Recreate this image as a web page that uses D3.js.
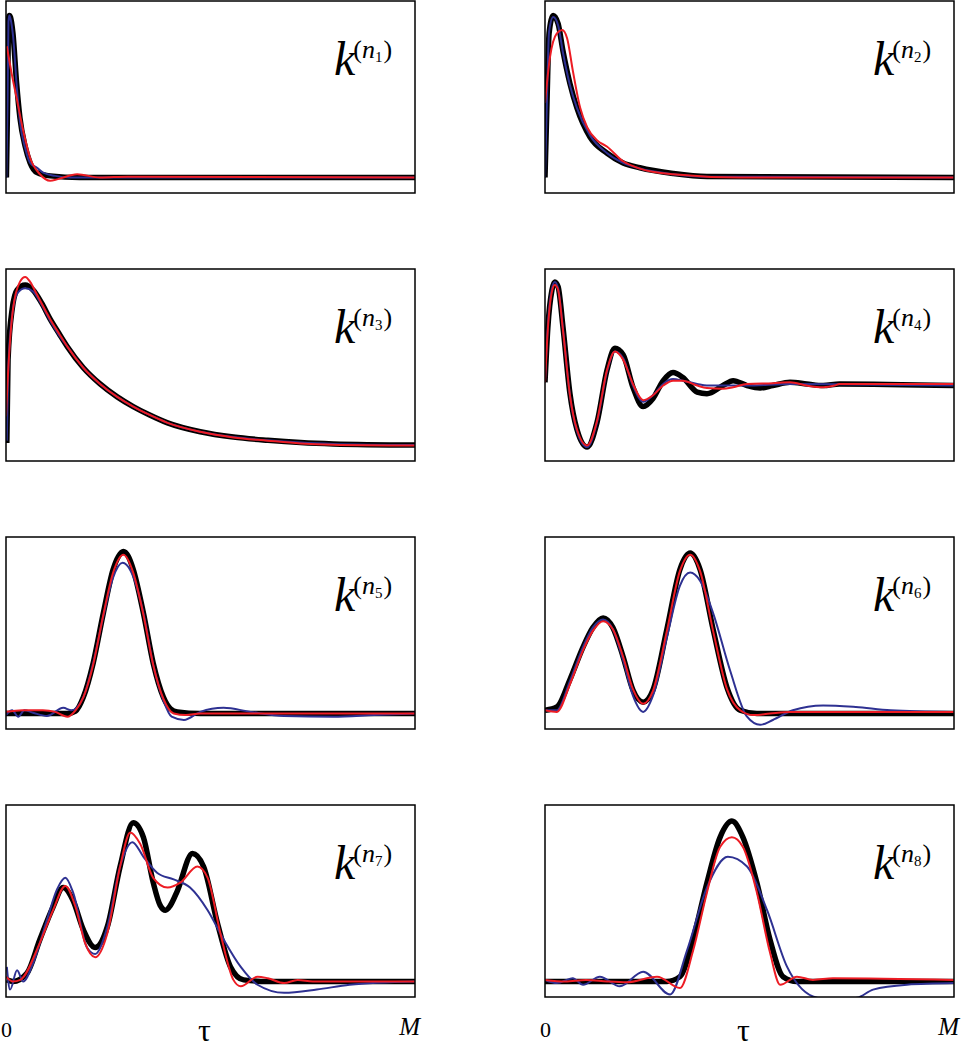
<!DOCTYPE html>
<html>
<head>
<meta charset="utf-8">
<script src="https://cdn.jsdelivr.net/npm/d3@7"></script>
<style>
  body { margin: 0; background: #fff; }
  svg { display: block; }
  text { font-family: "Liberation Serif", "Times New Roman", serif; fill: #000; }
</style>
</head>
<body>
<svg id="chart"></svg>
<script>
// each series is a list of [tau (% of M), amplitude]
// black = true kernel, blue / red = the two estimates

let kTrue1 = [[0.1,0],[0.4,0.48],[0.6,0.97],[0.8,1.0],[1.1,0.99],[1.7,0.89],[2.6,0.58],[3.4,0.37],[4.7,0.19],[5.9,0.09],[7.6,0.03],[10.8,0.01],[18,0],[100,0]];
let kBlue1 = [[0.1,0],[0.4,0.5],[0.6,0.96],[0.8,1.0],[1.1,0.98],[1.7,0.88],[2.7,0.54],[3.4,0.35],[4.7,0.18],[5.9,0.09],[7.6,0.06],[9.1,0.03],[12,0.01],[15.7,0],[100,0]];
let kRed1 = [[0.2,0.81],[1.4,0.64],[2.6,0.49],[4.2,0.29],[5.9,0.12],[8.3,0.02],[10.8,-0.02],[12.7,-0.01],[17.4,0.02],[23,0],[29.7,0.005],[100,0]];

let kTrue2 = [[0,0],[0.5,0.48],[1.0,0.89],[2.0,1.0],[3.2,0.95],[4.4,0.78],[6.1,0.58],[7.8,0.43],[11,0.25],[15.2,0.15],[19.1,0.09],[23.2,0.06],[31.3,0.025],[39.6,0.006],[100,0]];
let kBlue2 = [[0,0],[0.5,0.5],[1.0,0.9],[2.0,0.99],[3.2,0.94],[4.4,0.77],[6.1,0.57],[7.8,0.43],[11,0.26],[15.2,0.15],[19.1,0.09],[23.2,0.055],[31.3,0.02],[39.6,0.005],[100,0]];
let kRed2 = [[0,0.46],[1.2,0.74],[2.9,0.89],[4.2,0.91],[5.4,0.86],[6.8,0.66],[8.6,0.43],[10.3,0.31],[12.7,0.23],[15.2,0.19],[19.1,0.1],[23.2,0.055],[31.3,0.02],[47.7,0],[100,0]];

let kTrue3 = [[0.2,0.015],[0.5,0.53],[1.5,0.84],[2.7,0.96],[4.7,0.99],[6.6,0.96],[8.7,0.88],[10.8,0.78],[13,0.69],[15,0.61],[18.9,0.48],[23,0.38],[27.2,0.3],[31.1,0.24],[35,0.19],[39.5,0.14],[47.5,0.085],[55.6,0.052],[64,0.032],[72,0.018],[80,0.01],[100,0.003]];
let kBlue3 = [[0.2,0.03],[0.6,0.5],[1.6,0.82],[2.8,0.94],[4.7,0.97],[6.6,0.95],[8.7,0.87],[10.8,0.77],[13,0.68],[15,0.61],[18.9,0.48],[23,0.38],[27.2,0.3],[31.1,0.24],[35,0.19],[39.5,0.14],[47.5,0.085],[55.6,0.052],[64,0.032],[72,0.018],[80,0.01],[100,0.003]];
let kRed3 = [[0,0.18],[0.25,0.32],[1.7,0.84],[3.4,1.01],[4.7,1.04],[5.9,1.01],[7.6,0.93],[10.8,0.78],[13,0.69],[15,0.61],[18.9,0.48],[23,0.38],[27.2,0.3],[31.1,0.24],[35,0.19],[39.5,0.14],[47.5,0.085],[55.6,0.05],[64,0.03],[72,0.013],[80,0.005],[100,0]];

let kTrue4 = [[0,0.39],[0.7,0.73],[1.7,0.96],[2.4,1.01],[3.2,0.98],[4.4,0.73],[6.1,0.32],[7.8,0.1],[10.3,-0.01],[12.7,0.14],[15.2,0.47],[17.1,0.6],[19.1,0.56],[21.5,0.36],[24,0.24],[26.4,0.29],[28.9,0.4],[31.3,0.45],[33.7,0.42],[37.2,0.33],[39.6,0.32],[43.5,0.37],[46,0.4],[49.4,0.37],[52.6,0.355],[55.7,0.37],[59.9,0.39],[64,0.38],[68,0.37],[72,0.38],[100,0.37]];
let kBlue4 = [[0,0.39],[0.7,0.74],[1.7,0.97],[2.4,1.01],[3.2,0.97],[4.4,0.72],[6.1,0.31],[7.8,0.09],[10.3,-0.01],[12.7,0.14],[15.2,0.46],[17.1,0.58],[19.1,0.54],[21.5,0.37],[24,0.27],[26.4,0.31],[28.9,0.38],[31.3,0.41],[33.7,0.4],[37.2,0.38],[39.6,0.37],[43.5,0.37],[49.4,0.37],[59.9,0.38],[100,0.37]];
let kRed4 = [[0,0.39],[0.7,0.72],[1.7,0.95],[2.4,0.99],[3.2,0.96],[4.4,0.71],[6.1,0.31],[7.8,0.1],[10.3,0],[12.7,0.15],[15.2,0.47],[17.1,0.58],[19.1,0.53],[21.5,0.38],[24,0.28],[26.4,0.31],[28.9,0.37],[31.3,0.4],[33.7,0.4],[37.2,0.37],[39.6,0.355],[43.5,0.35],[46,0.36],[49.4,0.38],[55.7,0.385],[59.9,0.39],[64,0.37],[68,0.36],[70.8,0.37],[72,0.38],[100,0.38]];

let kTrue5 = [[0,0],[6.6,0],[15,0],[17,0.015],[18.9,0.1],[21.3,0.31],[23.8,0.62],[26.2,0.89],[27.5,0.97],[28.7,1.0],[29.9,0.97],[31.1,0.89],[33.6,0.62],[36,0.31],[38.5,0.1],[40.2,0.03],[41.9,0.01],[47.5,0],[100,0]];
let kBlue5 = [[0,-0.01],[1.5,0.02],[3,-0.02],[4.5,0.02],[6.6,0.005],[10,-0.015],[14,0.035],[16,0.02],[18.9,0.1],[21.3,0.31],[23.8,0.6],[26.2,0.84],[28.5,0.93],[30.5,0.88],[33.6,0.62],[36,0.3],[38.5,0.08],[40.5,-0.02],[43.5,-0.04],[47.5,0.01],[53.2,0.035],[59.8,0.01],[68,-0.015],[80,-0.02],[90,-0.01],[100,0]];
let kRed5 = [[0,0.01],[4,0.02],[9,0.02],[12,0.01],[15,-0.02],[17,0.02],[18.9,0.1],[21.3,0.3],[23.8,0.61],[26.2,0.87],[28.7,0.98],[31.1,0.87],[33.6,0.61],[36,0.3],[38.5,0.09],[41,0],[44,-0.01],[47.5,0],[100,0]];

let kTrue6 = [[0,0.02],[2.9,0.04],[6.1,0.21],[9.3,0.41],[11.7,0.53],[14.2,0.59],[16.6,0.53],[19.1,0.35],[21.5,0.145],[24,0.07],[26.4,0.145],[29.8,0.52],[33,0.89],[35.5,0.99],[37.9,0.89],[41.1,0.52],[44.5,0.16],[47.7,0.02],[51.8,0],[100,0]];
let kBlue6 = [[0,0.02],[2.9,0.02],[6.1,0.2],[9.3,0.41],[11.7,0.53],[14.2,0.58],[16.6,0.52],[19.1,0.33],[21.5,0.11],[24,0.01],[26.4,0.11],[29.8,0.47],[33,0.79],[35.5,0.87],[37.9,0.82],[41.1,0.62],[45.2,0.27],[49.4,-0.02],[52.6,-0.07],[55.7,-0.04],[60.6,0.02],[68,0.05],[76,0.04],[84.5,0.02],[100,0.01]];
let kRed6 = [[0,0.02],[2.9,0.01],[6.1,0.18],[9.3,0.39],[11.7,0.51],[14.2,0.57],[16.6,0.52],[19.1,0.35],[21.5,0.15],[24,0.06],[26.4,0.14],[29.8,0.51],[33,0.88],[35.5,0.98],[37.9,0.88],[41.1,0.51],[44.5,0.15],[47.7,0.02],[51,-0.01],[55,0],[60,0.01],[100,0.01]];

let kTrue7 = [[0.2,0.01],[1.7,0],[5.1,0.05],[8.3,0.26],[11.5,0.46],[14,0.58],[16.4,0.5],[18.9,0.32],[21.8,0.21],[24.8,0.34],[27.9,0.71],[31.1,0.98],[33.6,0.89],[36,0.61],[37.7,0.47],[39,0.44],[40.2,0.47],[41.9,0.56],[45.6,0.79],[48.3,0.71],[51.7,0.36],[54.9,0.09],[58.1,0.01],[64,0],[100,0]];
let kBlue7 = [[0.2,0.09],[1,-0.05],[2.7,0.07],[4.2,0],[6.6,0.11],[10,0.38],[12.5,0.57],[14.5,0.64],[16.4,0.55],[19.8,0.21],[21.8,0.17],[24.8,0.34],[27.9,0.71],[30.9,0.86],[33.6,0.77],[37,0.67],[41,0.63],[45,0.58],[49.3,0.44],[53.2,0.26],[57.4,0.09],[61.5,-0.02],[68,-0.07],[76,-0.05],[84,-0.02],[100,0]];
let kRed7 = [[0,0.03],[1.7,0],[3.5,0.01],[8.3,0.24],[11.5,0.44],[14.5,0.59],[17,0.46],[19.3,0.24],[21.8,0.15],[24.8,0.3],[27.9,0.71],[30.4,0.92],[32.8,0.85],[36,0.64],[39.5,0.58],[42.6,0.61],[46.8,0.71],[49.3,0.64],[52.4,0.3],[55.6,0.01],[57.4,-0.03],[61.5,0.03],[64,0.02],[68,-0.01],[71.3,0.01],[75,0],[100,0]];

let kTrue8 = [[0,0],[29.8,0],[33,0.03],[36.2,0.26],[39.6,0.61],[42.8,0.89],[45.7,0.99],[48.4,0.89],[51.8,0.61],[55,0.26],[58.2,0.03],[61.6,0],[100,0]];
let kBlue8 = [[0,0.01],[2.9,-0.01],[6.8,0.02],[9.3,-0.02],[13.4,0.03],[18.3,-0.03],[24,0.06],[30.6,-0.08],[34.7,0.19],[39.6,0.58],[44.7,0.77],[49.4,0.71],[54.3,0.44],[59.2,0.09],[66.5,-0.1],[70.4,-0.11],[76.3,-0.1],[80.2,-0.05],[88.5,-0.02],[100,-0.01]];
let kRed8 = [[0,0.01],[5,0],[10,0.01],[15.2,0],[20,-0.005],[27.4,0.03],[33,-0.04],[36.2,0.19],[39.6,0.55],[42.8,0.83],[45.7,0.89],[48.4,0.83],[51.8,0.55],[55,0.18],[57.5,-0.02],[61.6,0.03],[65.5,0.01],[70.4,0.02],[100,0.01]];

let panelNames = ["1", "2", "3", "4", "5", "6", "7", "8"];
let trueSeries = [kTrue1, kTrue2, kTrue3, kTrue4, kTrue5, kTrue6, kTrue7, kTrue8];
let blueSeries = [kBlue1, kBlue2, kBlue3, kBlue4, kBlue5, kBlue6, kBlue7, kBlue8];
let redSeries = [kRed1, kRed2, kRed3, kRed4, kRed5, kRed6, kRed7, kRed8];
let tauDomain = [0, 100];
let ampDomain = [-0.0957, 1.0895];
let axisLabels = { start: "0", middle: "τ", end: "M" };

let width = 966;
let height = 1050;
let colLeft = [6, 545];
let rowTop = [1, 269, 537, 805];
let boxW = 409;
let boxH = 192;

let svg = d3.select("#chart")
    .attr("width", width)
    .attr("height", height);

let x = d3.scaleLinear().domain(tauDomain).range([0, boxW]);
let y = d3.scaleLinear().domain(ampDomain).range([boxH, 0]);

let line = d3.line()
    .x(d => x(d[0]))
    .y(d => y(d[1]))
    .curve(d3.curveMonotoneX);

panelNames.forEach((name, i) => {
    let col = i % 2;
    let row = Math.floor(i / 2);
    let g = svg.append("g")
        .attr("transform", `translate(${colLeft[col]},${rowTop[row]})`);

    g.append("clipPath")
        .attr("id", "clip" + i)
        .append("rect")
            .attr("width", boxW)
            .attr("height", boxH);

    let plot = g.append("g").attr("clip-path", `url(#clip${i})`);

    plot.append("path")
        .datum(trueSeries[i])
        .attr("d", line)
        .attr("fill", "none")
        .attr("stroke", "#000")
        .attr("stroke-width", 5.5)
        .attr("stroke-linejoin", "round");

    plot.append("path")
        .datum(blueSeries[i])
        .attr("d", line)
        .attr("fill", "none")
        .attr("stroke", "#2e3192")
        .attr("stroke-width", 2);

    plot.append("path")
        .datum(redSeries[i])
        .attr("d", line)
        .attr("fill", "none")
        .attr("stroke", "#ed1c24")
        .attr("stroke-width", 2);

    g.append("rect")
        .attr("width", boxW)
        .attr("height", boxH)
        .attr("fill", "none")
        .attr("stroke", "#000")
        .attr("stroke-width", 1.5);

    // k^(n_i) label
    let label = g.append("text")
        .attr("x", boxW - 81)
        .attr("y", 74);
    label.append("tspan")
        .style("font-style", "italic")
        .style("font-size", "48px")
        .text("k");
    label.append("tspan")
        .attr("dx", -2)
        .attr("dy", -17)
        .style("font-size", "26px")
        .text("(");
    label.append("tspan")
        .style("font-style", "italic")
        .style("font-size", "26px")
        .text("n");
    label.append("tspan")
        .attr("dy", 4)
        .style("font-size", "15px")
        .text(name);
    label.append("tspan")
        .attr("dx", 1)
        .attr("dy", -4)
        .style("font-size", "26px")
        .text(")");
});

// tau axis labels under the bottom row
colLeft.forEach(left => {
    let bottom = svg.append("g").attr("transform", `translate(${left},0)`);
    bottom.append("text")
        .attr("x", -5)
        .attr("y", 1037)
        .style("font-size", "22px")
        .text(axisLabels.start);
    bottom.append("text")
        .attr("x", boxW / 2 - 6)
        .attr("y", 1041)
        .attr("text-anchor", "middle")
        .style("font-size", "32px")
        .text(axisLabels.middle);
    bottom.append("text")
        .attr("x", boxW + 5)
        .attr("y", 1035)
        .attr("text-anchor", "end")
        .style("font-style", "italic")
        .style("font-size", "25px")
        .text(axisLabels.end);
});
</script>
</body>
</html>
